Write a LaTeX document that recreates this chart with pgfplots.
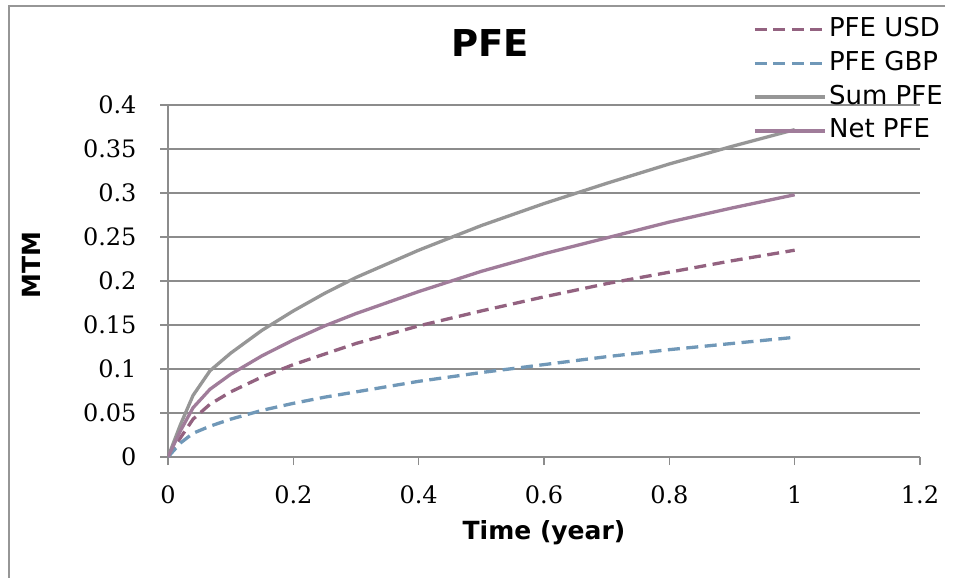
\documentclass[border=0pt]{standalone}
\usepackage{pgfplots}
\pgfplotsset{compat=1.18}
\usepackage{fontspec}
\setmainfont{DejaVu Sans}
\newfontfamily\tickfont{DejaVu Serif}
\definecolor{usd}{RGB}{147,98,128}
\definecolor{gbp}{RGB}{112,152,184}
\definecolor{sumc}{RGB}{150,150,150}
\definecolor{netc}{RGB}{160,124,154}
\definecolor{gridc}{RGB}{140,140,140}
\definecolor{framec}{RGB}{150,150,150}
\begin{document}
\begin{tikzpicture}[x=1pt,y=1pt]
\useasboundingbox (0,0) rectangle (958,-578);
\fill[white] (0,0) rectangle (958,-578);
\draw[framec, line width=1.5pt] (945,-6) -- (9,-6) -- (9,-578);
\begin{axis}[
  at={(168pt,-457pt)}, anchor=south west,
  scale only axis, width=752pt, height=352pt,
  xmin=0, xmax=1.2, ymin=0, ymax=0.4,
  xtick={0,0.2,0.4,0.6,0.8,1,1.2},
  ytick={0,0.05,0.1,0.15,0.2,0.25,0.3,0.35,0.4},
  axis x line*=bottom, axis y line*=left,
  axis line style={gridc, line width=1.3pt},
  tick style={gridc, line width=1.3pt},
  major tick length=8pt, tick align=outside,
  ymajorgrids, grid style={gridc, line width=1.3pt},
  /pgf/number format/assume math mode=true,
  tick label style={font=\tickfont\fontsize{24}{28}\selectfont, black},
  xticklabel style={/pgf/number format/.cd, fixed, precision=1, /tikz/.cd, yshift=-17pt},
  yticklabel style={/pgf/number format/.cd, fixed, precision=2, /tikz/.cd, xshift=-20pt},
  xlabel={Time (year)},
  ylabel={MTM},
  label style={font=\bfseries\fontsize{25}{30}\selectfont},
  xlabel style={at={(axis description cs:0.5,0)}, anchor=center, yshift=-76pt},
  ylabel style={at={(axis description cs:-0.181,0.545)}, anchor=center},
  title={PFE},
  title style={font=\bfseries\fontsize{37}{44}\selectfont, at={(axis description cs:0.428,1)}, anchor=center, yshift=56pt},
  legend image code/.code={\draw[#1] (0pt,0pt) -- (70pt,0pt);},
  legend cell align=left,
  legend style={font=\fontsize{26}{30}\selectfont, draw=none, fill=none,
    at={(axis description cs:0.778,1.259)}, anchor=north west, inner sep=0pt,
    row sep=2.8pt, nodes={inner sep=2.5pt, text height=20pt, text depth=6pt}},
]
\addplot[usd, line width=3.3pt, dash pattern=on 12pt off 6.5pt] coordinates {
(0,0) (0.02,0.022) (0.04,0.043) (0.067,0.060) (0.1,0.074) (0.15,0.091) (0.2,0.105) (0.25,0.117) (0.3,0.129) (0.4,0.149) (0.5,0.166) (0.6,0.182) (0.7,0.197) (0.8,0.210) (0.9,0.223) (1.0,0.235)};
\addlegendentry{PFE USD}
\addplot[gbp, line width=3.3pt, dash pattern=on 12pt off 6.5pt] coordinates {
(0,0) (0.02,0.016) (0.04,0.027) (0.067,0.035) (0.1,0.043) (0.15,0.053) (0.2,0.061) (0.25,0.068) (0.3,0.074) (0.4,0.086) (0.5,0.096) (0.6,0.105) (0.7,0.114) (0.8,0.122) (0.9,0.129) (1.0,0.136)};
\addlegendentry{PFE GBP}
\addplot[sumc, line width=3.3pt] coordinates {
(0,0) (0.02,0.037) (0.04,0.070) (0.067,0.098) (0.1,0.118) (0.15,0.144) (0.2,0.166) (0.25,0.186) (0.3,0.204) (0.4,0.235) (0.5,0.263) (0.6,0.288) (0.7,0.311) (0.8,0.333) (0.9,0.353) (1.0,0.372)};
\addlegendentry{Sum PFE}
\addplot[netc, line width=3.3pt] coordinates {
(0,0) (0.02,0.030) (0.04,0.056) (0.067,0.077) (0.1,0.094) (0.15,0.115) (0.2,0.133) (0.25,0.149) (0.3,0.163) (0.4,0.188) (0.5,0.211) (0.6,0.231) (0.7,0.249) (0.8,0.267) (0.9,0.283) (1.0,0.298)};
\addlegendentry{Net PFE}
\end{axis}
\end{tikzpicture}
\end{document}
